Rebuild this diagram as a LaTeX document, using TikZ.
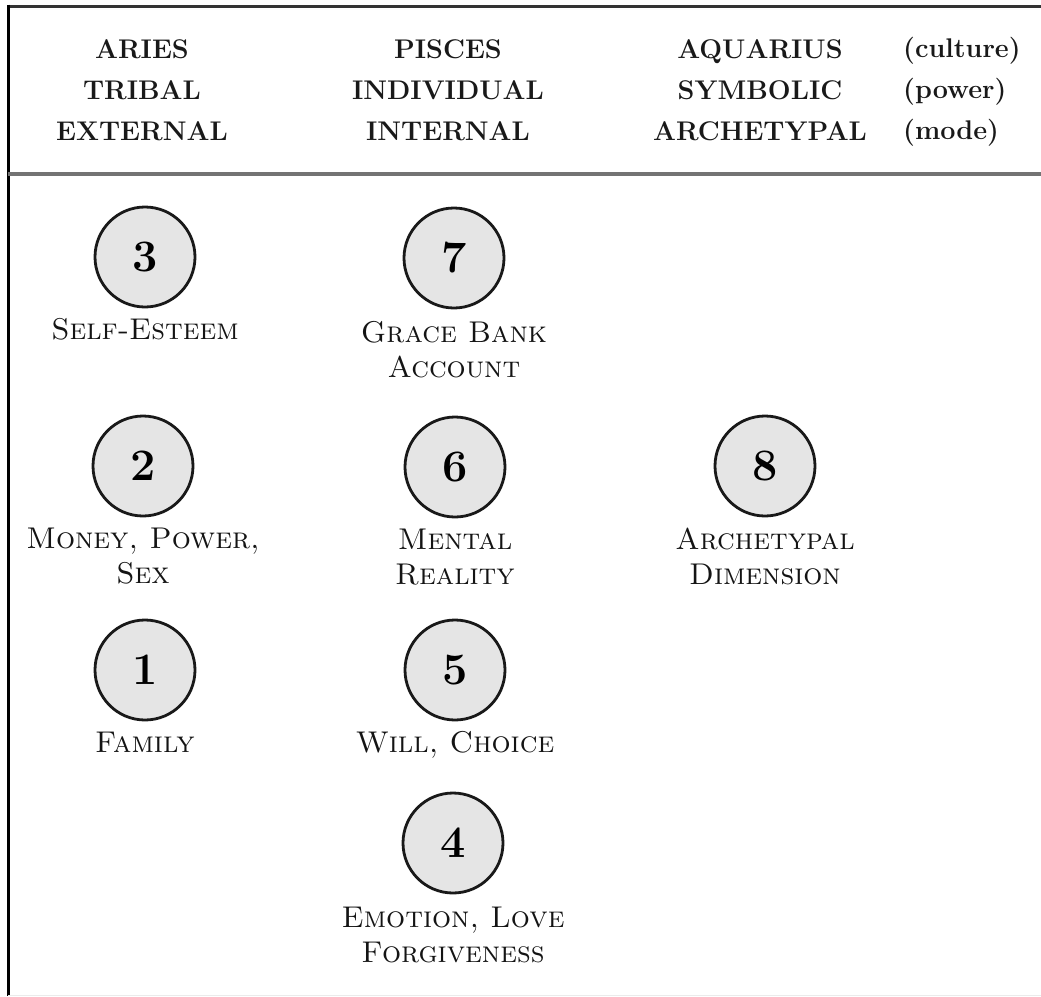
\documentclass[tikz,border=0pt]{standalone}
\begin{document}
\begin{tikzpicture}[x=1pt,y=-1pt,
  chakra/.style={circle, draw=black!90, line width=2.8pt, fill=black!10,
    minimum size=100pt, inner sep=0pt, font=\fontsize{45}{45}\selectfont\bfseries},
  lbl/.style={anchor=north, align=center, inner sep=0pt,
    font=\fontsize{30}{35}\selectfont\scshape, text=black!92},
  hdr/.style={anchor=north, align=center, inner sep=0pt,
    font=\fontsize{27}{41}\selectfont\bfseries, text=black!90},
  frame/.style={line width=3pt}
]
\useasboundingbox (0,0) rectangle (1041,996);
% frame lines
\draw[frame, black!80] (8,6) -- (1041,6);
\draw[frame, black] (8,4.5) -- (8,996);
\draw[line width=3.5pt, black!55] (8,174) -- (1041,174);
\draw[line width=1pt, black!8] (8,995) -- (1041,995);
% header
\node[hdr] (hA) at (142,39) {ARIES\\TRIBAL\\EXTERNAL};
\node[hdr] (hP) at (448,39) {PISCES\\INDIVIDUAL\\INTERNAL};
\node[hdr] (hQ) at (760,39) {AQUARIUS\\SYMBOLIC\\ARCHETYPAL};
\node[hdr, anchor=north west, align=left] (hM) at (903,37) {(culture)\\(power)\\(mode)};
% circles
\node[chakra] (c3) at (145,257) {3};
\node[chakra] (c2) at (143,466) {2};
\node[chakra] (c1) at (145,670) {1};
\node[chakra] (c7) at (454,258) {7};
\node[chakra] (c6) at (455,467) {6};
\node[chakra] (c5) at (455,670) {5};
\node[chakra] (c4) at (453,843) {4};
\node[chakra] (c8) at (765,466) {8};
% labels
\node[lbl] (l3) at ([yshift=-10pt]c3.south) {Self-Esteem};
\node[lbl] (l2) at ([yshift=-10pt]c2.south) {Money, Power,\\Sex};
\node[lbl] (l1) at ([yshift=-10pt]c1.south) {Family};
\node[lbl] (l7) at ([yshift=-12pt]c7.south) {Grace Bank\\Account};
\node[lbl] (l6) at ([yshift=-10pt]c6.south) {Mental\\Reality};
\node[lbl] (l5) at ([yshift=-10pt]c5.south) {Will, Choice};
\node[lbl] (l4) at ([yshift=-12pt]c4.south) {Emotion, Love\\Forgiveness};
\node[lbl] (l8) at ([yshift=-10pt]c8.south) {Archetypal\\Dimension};
\end{tikzpicture}
\end{document}
